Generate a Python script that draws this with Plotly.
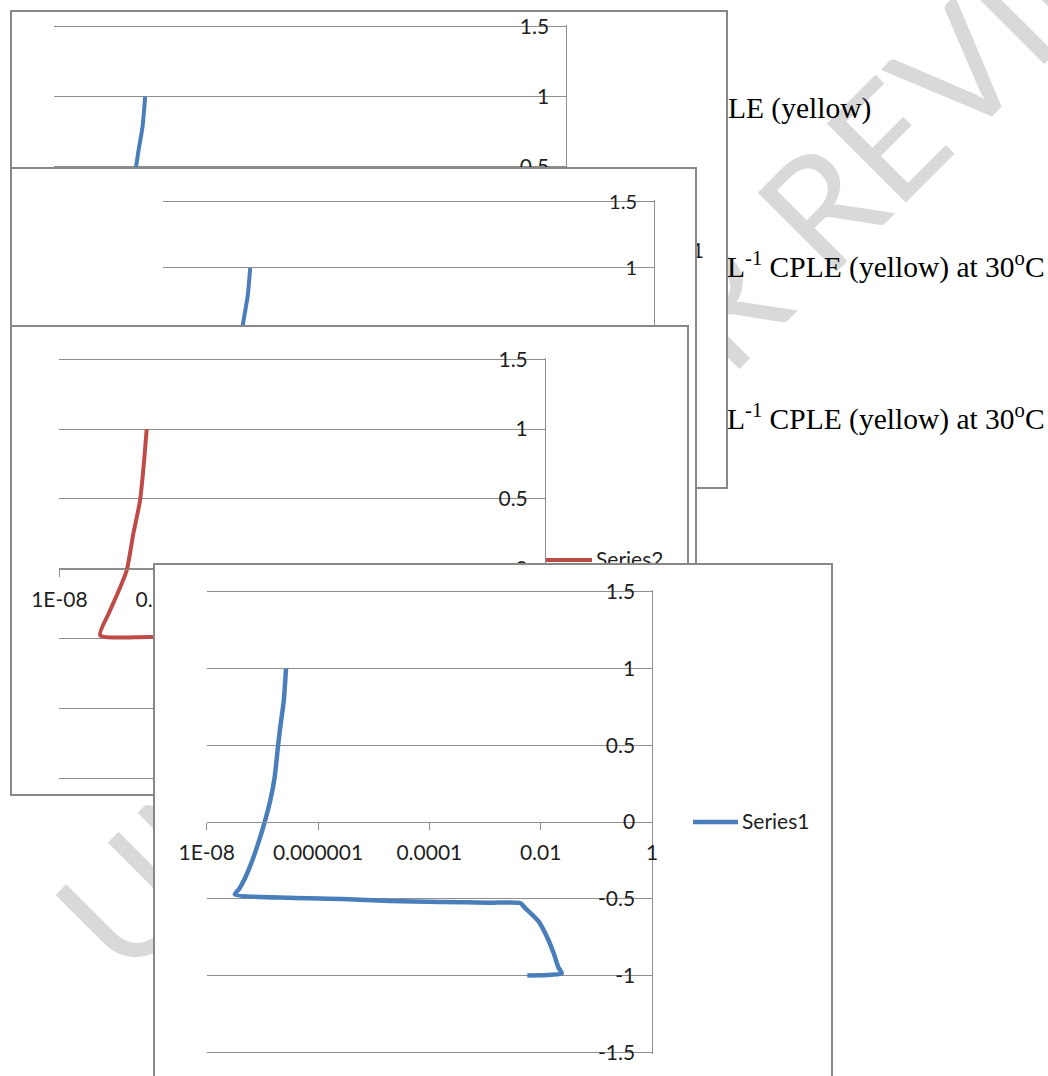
import plotly.graph_objects as go

W, H = 1048, 1076

# ---------------- data ----------------
series1_current = [2.66e-7, 2.42e-7, 2.09e-7, 1.91e-7, 1.66e-7, 1.38e-7, 1.10e-7,
                   8.3e-8, 6.2e-8, 4.6e-8, 3.8e-8, 3.2e-8,
                   3.1e-7, 2.7e-6, 1.95e-5, 1.55e-4, 1.23e-3, 4.3e-3,
                   5.2e-3, 9.1e-3, 1.32e-2, 1.74e-2, 2.09e-2, 2.4e-2, 5.75e-3]
series1_potential = [1.0, 0.788, 0.614, 0.495, 0.29, 0.137, 0.0,
                     -0.145, -0.275, -0.384, -0.437, -0.471,
                     -0.493, -0.50, -0.514, -0.52, -0.525, -0.527,
                     -0.558, -0.645, -0.753, -0.861, -0.948, -0.985, -0.998]

series2_current = [2.75e-7, 2.5e-7, 2.14e-7, 1.66e-7, 1.29e-7, 9.1e-8, 6.5e-8, 4.7e-8,
                   3.2e-7, 2.0e-5, 1.26e-3, 4.5e-3, 1.26e-2, 2.2e-2, 6.3e-3]
series2_potential = [1.0, 0.78, 0.49, 0.254, -0.01, -0.177, -0.32, -0.476,
                     -0.488, -0.51, -0.52, -0.525, -0.75, -0.97, -0.99]

series_names = ["Series1", "Series2"]
x_tickvals = [1e-8, 1e-6, 1e-4, 1e-2, 1]
x_ticktext = ["1E-08", "0.000001", "0.0001", "0.01", "1"]
y_tickvals = [-1.5, -1, -0.5, 0, 0.5, 1, 1.5]
y_ticktext = ["-1.5", "-1", "-0.5", "0", "0.5", "1", "1.5"]

caption_lines = ["PLE (yellow)",
                 "L<sup>-1</sup> CPLE (yellow) at 30<sup>o</sup>C",
                 "L<sup>-1</sup> CPLE (yellow) at 30<sup>o</sup>C"]
watermark_text = "UNDER PEER REVIEW"

# ---------------- styling / geometry (pixels) ----------------
BLUE = "#4a7ebb"
RED = "#be4b48"
GRID = "#8e8e8e"
FRAME = "#888888"
TXT = "#1f1f1f"
SANS = "Lato"
SERIF = "Liberation Serif"
Y_PAD = 0.012  # tiny range padding so the edge grid lines at +/-1.5 are kept

# frame = (left, top, right, bottom), plot = (left, top(1.5), right, bottom(-1.5))
# legend_line = (x0, x1, y) of the key sample, legend_text = (x, y, textposition)
PANELS = [
    dict(frame=(12, 12, 726, 487), plot=(54, 26.7, 566, 446.7), series=0, font=21,
         width=4, legend_text=(704, 253, "middle left"), legend_line=None),
    dict(frame=(12, 169, 695, 640), plot=(162.7, 201.7, 654, 599.5), series=0, font=20,
         width=4, legend_text=None, legend_line=None),
    dict(frame=(12, 327, 687, 794), plot=(59.4, 359.3, 544.6, 778.3), series=1, font=21,
         width=4, legend_text=(596, 562, "middle right"), legend_line=(545, 592, 560)),
    dict(frame=(155, 564.5, 831, 1100), plot=(206.7, 591.7, 652, 1052.5), series=0, font=21,
         width=4.5, legend_text=(742, 824, "middle right"), legend_line=(693, 738, 822)),
]
CAPTION_POS = [(711.5, 110.6), (727, 269.6), (727, 422)]
WATERMARK_CENTER = (640, 380)


def dx(a, b):
    return [max(0.0, a / W), min(1.0, b / W)]


def dy(top, bottom):
    return [max(0.0, 1 - bottom / H), min(1.0, 1 - top / H)]


series_x = [series1_current, series2_current]
series_y = [series1_potential, series2_potential]
series_color = [BLUE, RED]

fig = go.Figure()
layout = dict(
    template="none",
    width=W, height=H, margin=dict(l=0, r=0, t=0, b=0, pad=0),
    paper_bgcolor="white", plot_bgcolor="white",
    showlegend=False,
)

hidden = dict(showgrid=False, zeroline=False, showticklabels=False, ticks="",
              automargin=False)

# page-level subplot (document text behind the chart pictures)
layout["xaxis"] = dict(domain=[0, 1], range=[0, W], visible=False, **hidden)
layout["yaxis"] = dict(domain=[0, 1], range=[H, 0], visible=False, **hidden)
fig.add_trace(go.Scatter(
    x=[p[0] for p in CAPTION_POS], y=[p[1] for p in CAPTION_POS],
    text=caption_lines, mode="text", textposition="middle right",
    textfont=dict(family=SERIF, size=29.5, color="black"),
    cliponaxis=False, showlegend=False, hoverinfo="skip", xaxis="x", yaxis="y"))

for i, p in enumerate(PANELS):
    nf = 2 + 2 * i
    nd = nf + 1
    fl, ft, fr, fb = p["frame"]
    pl, pt, pr, pb = p["plot"]
    fb_vis = min(fb, H)
    last = fb > H
    s = p["series"]
    # ---- frame (chart area) ----
    layout[f"xaxis{nf}"] = dict(domain=dx(fl, fr), range=[fl, fr], anchor=f"y{nf}",
                                showline=True, linecolor=FRAME, linewidth=2,
                                mirror=not last, side="top" if last else "bottom",
                                **hidden)
    layout[f"yaxis{nf}"] = dict(domain=dy(ft, fb_vis), range=[fb_vis, ft], anchor=f"x{nf}",
                                showline=True, linecolor=FRAME, linewidth=2, mirror=True,
                                **hidden)
    # empty trace so the frame subplot is always created
    fig.add_trace(go.Scatter(x=[], y=[], mode="markers", showlegend=False,
                             hoverinfo="skip", xaxis=f"x{nf}", yaxis=f"y{nf}"))
    if p["legend_line"] is not None:
        x0, x1, yy = p["legend_line"]
        fig.add_trace(go.Scatter(x=[x0, x1], y=[yy, yy], mode="lines",
                                 line=dict(color=series_color[s], width=p["width"]),
                                 showlegend=False, hoverinfo="skip",
                                 xaxis=f"x{nf}", yaxis=f"y{nf}"))
    if p["legend_text"] is not None:
        tx, ty, tp = p["legend_text"]
        fig.add_trace(go.Scatter(x=[tx], y=[ty], text=[series_names[s]], mode="text",
                                 textposition=tp, cliponaxis=False,
                                 textfont=dict(family=SANS, size=p["font"], color=TXT),
                                 showlegend=False, hoverinfo="skip",
                                 xaxis=f"x{nf}", yaxis=f"y{nf}"))
    # ---- plot area ----
    zero_px = (pt + pb) / 2
    ppu = (pb - pt) / 3.0
    extra = Y_PAD * ppu
    tf = dict(family=SANS, size=p["font"], color=TXT)
    layout[f"xaxis{nd}"] = dict(domain=dx(pl, pr), type="log", range=[-8, 0],
                                anchor="free", position=1 - zero_px / H,
                                showline=True, linecolor=GRID, linewidth=1,
                                ticks="outside", ticklen=7, tickcolor=GRID, tickwidth=1,
                                tickvals=x_tickvals, ticktext=x_ticktext, tickfont=tf,
                                ticklabelstandoff=5, automargin=False,
                                showgrid=False, zeroline=False)
    layout[f"yaxis{nd}"] = dict(domain=dy(pt - extra, pb + extra),
                                range=[-1.5 - Y_PAD, 1.5 + Y_PAD], anchor=f"x{nd}",
                                side="right", ticklabelposition="inside",
                                ticklabeloverflow="allow",
                                tickvals=y_tickvals, ticktext=y_ticktext, tickfont=tf,
                                ticklabelstandoff=18, automargin=False,
                                showgrid=True, gridcolor=GRID, gridwidth=1,
                                showline=True, linecolor=GRID, linewidth=1,
                                zeroline=False, ticks="")
    fig.add_trace(go.Scatter(x=series_x[s], y=series_y[s], mode="lines",
                             name=series_names[s],
                             line=dict(color=series_color[s], width=p["width"],
                                       shape="spline", smoothing=0.6),
                             showlegend=False, hoverinfo="skip",
                             xaxis=f"x{nd}", yaxis=f"y{nd}"))

cx, cy = WATERMARK_CENTER
layout["shapes"] = [dict(
    type="rect", xref="paper", yref="paper",
    x0=cx / W - 0.001, x1=cx / W + 0.001, y0=1 - cy / H - 0.001, y1=1 - cy / H + 0.001,
    line=dict(width=0), fillcolor="rgba(0,0,0,0)", layer="below",
    label=dict(text=watermark_text, textangle=-45, textposition="middle center",
               font=dict(family=SANS, size=156, color="#d9d9d9")))]

fig.update_layout(**layout)
fig.write_html("out.html", config={"displayModeBar": False})
